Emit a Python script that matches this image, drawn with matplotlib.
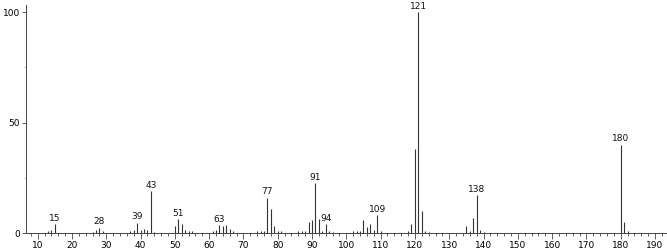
import numpy as np
import matplotlib
matplotlib.use("Agg")
import matplotlib.pyplot as plt
from matplotlib.ticker import MultipleLocator

# m/z values and relative intensities
mz = [13, 14, 15, 26, 27, 28, 29, 37, 38, 39, 40, 41, 42, 43, 44,
      50, 51, 52, 53, 54, 55, 61, 62, 63, 64, 65, 66, 67,
      74, 75, 76, 77, 78, 79, 80, 81,
      86, 87, 88, 89, 90, 91, 92, 93, 94, 95, 96,
      102, 103, 104, 105, 106, 107, 108, 109, 110,
      118, 119, 120, 121, 122, 123, 124,
      135, 136, 137, 138, 139, 140,
      180, 181, 182]
intensity = [1.0, 1.5, 4.0, 0.5, 1.5, 2.5, 1.0, 0.8, 1.5, 4.7, 1.5, 2.0, 1.5, 19.0, 0.5,
             3.0, 6.3, 4.0, 1.5, 1.0, 1.0, 1.0, 1.5, 3.5, 3.0, 3.5, 2.0, 1.0,
             1.0, 1.0, 1.0, 16.0, 10.7, 3.0, 1.0, 1.0,
             1.0, 1.0, 1.0, 5.0, 5.9, 22.5, 6.3, 1.0, 4.0, 1.0, 0.5,
             1.0, 1.0, 1.0, 5.9, 2.9, 4.0, 1.5, 8.0, 1.0,
             1.0, 4.0, 38.0, 100.0, 10.0, 1.0, 0.5,
             3.3, 1.0, 6.6, 17.0, 1.5, 0.5,
             40.0, 5.0, 1.0]

# peaks that carry a label
labelled = [15, 28, 39, 43, 51, 63, 77, 91, 94, 109, 121, 138, 180]

fig = plt.figure(figsize=(6.67, 2.49), dpi=100)
ax = fig.add_axes([0.039, 0.064, 0.961, 0.916])

ax.vlines(mz, 0, intensity, colors="#333333", linewidth=0.8)

for m, h in zip(mz, intensity):
    if m in labelled:
        ax.text(m, h + 0.6, str(m), ha="center", va="bottom",
                fontsize=6.5, color="#111111")

ax.set_xlim(6.6, 193.5)
ax.set_ylim(0, 103.2)

ax.xaxis.set_major_locator(MultipleLocator(10))
ax.xaxis.set_minor_locator(MultipleLocator(2))
ax.yaxis.set_major_locator(MultipleLocator(50))
ax.yaxis.set_minor_locator(MultipleLocator(25))
ax.set_xticks(np.arange(10, 191, 10))

ax.tick_params(axis="x", which="major", length=4, width=0.6, labelsize=6.5, pad=1.5, color="#444444")
ax.tick_params(axis="x", which="minor", length=2, width=0.6, color="#444444")
ax.tick_params(axis="y", which="major", length=3, width=0.6, labelsize=6.5, pad=1.5, color="#444444")
ax.tick_params(axis="y", which="minor", length=2, width=0.6, color="#cccccc")

for side in ["top", "right"]:
    ax.spines[side].set_visible(False)
for side in ["left", "bottom"]:
    ax.spines[side].set_linewidth(0.7)
    ax.spines[side].set_color("#444444")

fig.savefig("out.png", dpi=100)
